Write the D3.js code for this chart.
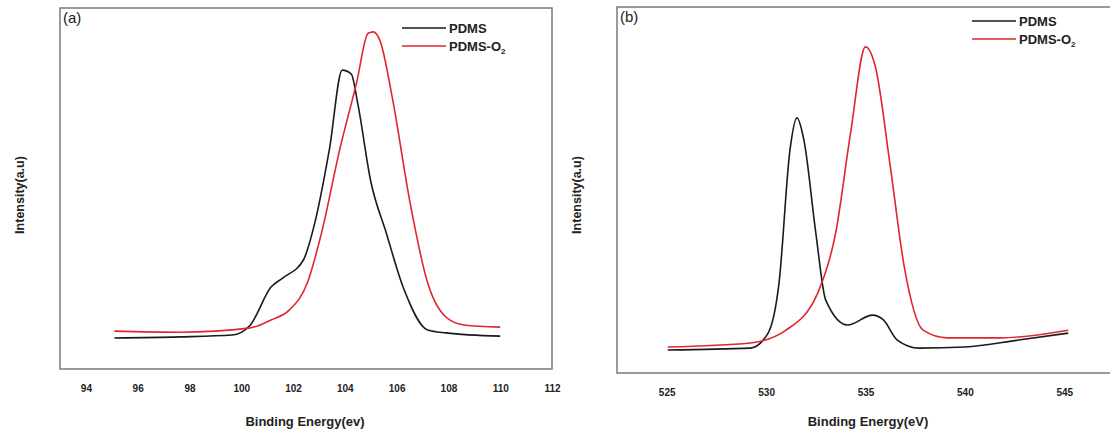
<!DOCTYPE html>
<html>
<head>
<meta charset="utf-8">
<script src="https://cdn.jsdelivr.net/npm/d3@7"></script>
<style>
  body { margin: 0; background: #fff; }
  svg text { font-family: "Liberation Sans", Arial, sans-serif; font-weight: bold; fill: #222; }
</style>
</head>
<body>
<div id="chart"></div>
<script>
///// DATOS //////
// Panel (a): Si 2p
let aEnergy   = [95.1, 97.6, 99.65, 100.35, 101.15, 101.6, 102.4, 102.8, 103.4, 103.9, 104.25, 104.5, 105.0, 105.6, 106.25, 107.2, 107.9, 110.0];
let aPdms     = [8.6, 8.9, 9.4, 12.2, 22.7, 25.2, 30.2, 39.3, 60.7, 82.8, 81.7, 73.5, 52.0, 37.7, 22.7, 10.8, 10.0, 9.1];
let aEnergyO2 = [95.1, 97.6, 100.35, 101.15, 101.85, 102.55, 103.1, 103.8, 104.45, 104.9, 105.1, 105.35, 105.85, 106.5, 107.2, 107.9, 108.6, 110.0];
let aPdmsO2   = [10.5, 10.2, 11.4, 13.6, 16.3, 23.8, 37.7, 60.7, 79.2, 93.0, 93.4, 91.1, 74.5, 46.8, 23.8, 14.4, 12.2, 11.6];
let aTicks    = [94, 96, 98, 100, 102, 104, 106, 108, 110, 112];

// Panel (b): O 1s
let bEnergy   = [525.05, 529.2, 530.1, 530.65, 531.2, 531.55, 531.9, 532.5, 533.0, 534.1, 535.35, 535.9, 536.6, 537.7, 540.0, 542.7, 545.2];
let bPdms     = [6.3, 6.8, 10.9, 24.6, 60.9, 69.7, 63.7, 38.3, 19.9, 13.1, 15.8, 14.5, 9.0, 6.8, 7.1, 9.0, 10.9];
let bEnergyO2 = [525.05, 529.2, 531.0, 532.6, 533.5, 534.25, 535.0, 535.5, 536.25, 536.95, 537.9, 539.1, 541.8, 545.2];
let bPdmsO2   = [7.1, 8.2, 11.7, 21.9, 38.3, 65.6, 89.1, 83.6, 56.3, 29.0, 11.7, 9.6, 9.6, 11.7];
let bTicks    = [525, 530, 535, 540, 545];

let svg = d3.select('#chart').append('svg')
    .attr('width', 1110)
    .attr('height', 437);

drawPanel({
    left: 60, top: 8, width: 492, height: 361,
    xDomain: [93, 112], ticks: aTicks,
    series: [
        {x: aEnergy, y: aPdms, color: '#1a1a1a', name: 'PDMS'},
        {x: aEnergyO2, y: aPdmsO2, color: '#e0252e', name: 'PDMS-O'}
    ],
    tag: '(a)', xTitle: 'Binding Energy(ev)', xTitleX: 305, yTitleX: 20,
    legendX: 402, legendY: 28
});

drawPanel({
    left: 617, top: 7, width: 497, height: 366,
    xDomain: [522.5, 547.5], ticks: bTicks,
    series: [
        {x: bEnergy, y: bPdms, color: '#1a1a1a', name: 'PDMS'},
        {x: bEnergyO2, y: bPdmsO2, color: '#e0252e', name: 'PDMS-O'}
    ],
    tag: '(b)', xTitle: 'Binding Energy(eV)', xTitleX: 868, yTitleX: 577,
    legendX: 972, legendY: 21
});

function drawPanel(p) {
    let g = svg.append('g').attr('transform', 'translate(' + p.left + ',' + p.top + ')');

    let x = d3.scaleLinear().domain(p.xDomain).range([0, p.width]);
    let y = d3.scaleLinear().domain([0, 100]).range([p.height, 0]);

    //Eje X, solo etiquetas
    let xAxis = g.append('g')
        .attr('transform', 'translate(0,' + p.height + ')')
        .call(d3.axisBottom(x).tickValues(p.ticks).tickSize(0).tickPadding(16));
    xAxis.select('.domain').remove();
    xAxis.selectAll('text')
        .attr('font-size', '10px')
        .attr('font-family', '"Liberation Sans", Arial, sans-serif')
        .attr('fill', '#333');

    let line = d3.line()
        .x(d => x(d[0]))
        .y(d => y(d[1]))
        .curve(d3.curveMonotoneX);

    p.series.forEach(s => {
        g.append('path')
            .datum(s.x.map((v, i) => [v, s.y[i]]))
            .attr('fill', 'none')
            .attr('stroke', s.color)
            .attr('stroke-width', 1.6)
            .attr('d', line);
    });

    //Marco
    g.append('rect')
        .attr('width', p.width)
        .attr('height', p.height)
        .attr('fill', 'none')
        .attr('stroke', '#7a7a7a')
        .attr('stroke-width', 1.5);

    g.append('text')
        .attr('x', 3).attr('y', 15)
        .attr('font-size', '15px')
        .style('font-weight', 'normal')
        .text(p.tag);

    //Leyenda
    p.series.forEach((s, i) => {
        let ly = p.legendY - p.top + i * 18;
        let lx = p.legendX - p.left;
        g.append('line')
            .attr('x1', lx).attr('x2', lx + 44)
            .attr('y1', ly).attr('y2', ly)
            .attr('stroke', s.color)
            .attr('stroke-width', 1.6);
        let t = g.append('text')
            .attr('x', lx + 47).attr('y', ly + 5)
            .attr('font-size', '13px')
            .text(s.name);
        if (i == 1) {
            t.append('tspan').attr('font-size', '8px').attr('dy', 3).text('2');
        }
    });

    svg.append('text')
        .attr('x', p.xTitleX).attr('y', 426)
        .attr('text-anchor', 'middle')
        .attr('font-size', '13px')
        .text(p.xTitle);

    svg.append('text')
        .attr('transform', 'translate(' + p.yTitleX + ',195) rotate(-90)')
        .attr('text-anchor', 'middle')
        .attr('dy', '0.35em')
        .attr('font-size', '12.5px')
        .text('Intensity(a.u)');
}
</script>
</body>
</html>
